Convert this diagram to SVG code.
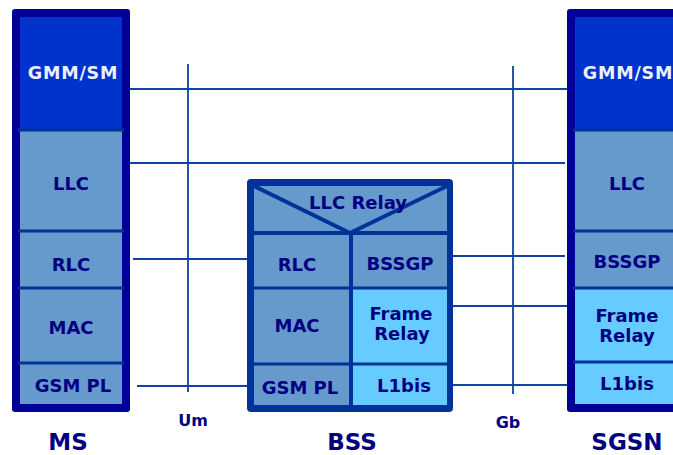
<svg xmlns="http://www.w3.org/2000/svg" width="673" height="455" viewBox="0 0 673 455">
<style>
text{font-family:"DejaVu Sans","Verdana",sans-serif;font-weight:bold;font-size:18px;fill:#000080;text-anchor:middle}
.w{fill:#eef0ff;letter-spacing:0.8px;font-size:17.5px}
.big{font-size:23px}
.sm{font-size:16px}
.div{stroke:#003399;stroke-width:3}
.conn{stroke:#1140a8;stroke-width:1.8;fill:none}
</style>
<rect width="673" height="455" fill="#ffffff"/>
<g id="connectors">
<line class="conn" x1="130" y1="89" x2="567" y2="89"/>
<line class="conn" x1="130" y1="163" x2="565" y2="163"/>
<line class="conn" x1="188" y1="64" x2="188" y2="392"/>
<line class="conn" x1="513" y1="66" x2="513" y2="394"/>
<line class="conn" x1="133" y1="259" x2="247" y2="259"/>
<line class="conn" x1="137" y1="386" x2="247" y2="386"/>
<line class="conn" x1="453" y1="256" x2="565" y2="256"/>
<line class="conn" x1="453" y1="306" x2="567" y2="306"/>
<line class="conn" x1="453" y1="385" x2="567" y2="385"/>
</g>
<g id="MS">
<rect x="12" y="9" width="118" height="403" rx="3" fill="#000099"/>
<rect x="20" y="17" width="102" height="387" fill="#6699cc"/>
<rect x="20" y="17" width="102" height="112" fill="#0033cc"/>
<line class="div" x1="18" y1="130" x2="124" y2="130"/>
<line class="div" x1="18" y1="231" x2="124" y2="231"/>
<line class="div" x1="18" y1="288" x2="124" y2="288"/>
<line class="div" x1="18" y1="363" x2="124" y2="363"/>
<text class="w" x="73" y="79">GMM/SM</text>
<text x="71" y="190">LLC</text>
<text x="71" y="271">RLC</text>
<text x="71" y="334">MAC</text>
<text x="73" y="392">GSM PL</text>
<text class="big" x="68" y="450">MS</text>
</g>
<g id="BSS">
<rect x="247" y="179" width="206" height="233" rx="4" fill="#003399"/>
<rect x="254" y="186" width="193" height="219" fill="#6699cc"/>
<rect x="352" y="289" width="95" height="116" fill="#66ccff"/>
<polyline points="254,186 350,233 447,186" fill="none" stroke="#003399" stroke-width="4"/>
<line x1="254" y1="233" x2="447" y2="233" stroke="#003399" stroke-width="4"/>
<line x1="351" y1="233" x2="351" y2="405" stroke="#003399" stroke-width="4"/>
<line class="div" x1="254" y1="288" x2="447" y2="288"/>
<line class="div" x1="254" y1="364" x2="447" y2="364"/>
<text x="358" y="209">LLC Relay</text>
<text x="297" y="271">RLC</text>
<text x="400" y="270">BSSGP</text>
<text x="297" y="332">MAC</text>
<text x="401" y="320">Frame</text>
<text x="402" y="340">Relay</text>
<text x="300" y="394">GSM PL</text>
<text x="404" y="392">L1bis</text>
<text class="big" x="352" y="450">BSS</text>
</g>
<g id="SGSN">
<rect x="567" y="9" width="118" height="403" rx="3" fill="#000099"/>
<rect x="575" y="17" width="102" height="387" fill="#6699cc"/>
<rect x="575" y="17" width="102" height="112" fill="#0033cc"/>
<rect x="575" y="288" width="102" height="116" fill="#66ccff"/>
<line class="div" x1="573" y1="130" x2="679" y2="130"/>
<line class="div" x1="573" y1="231" x2="679" y2="231"/>
<line class="div" x1="573" y1="288" x2="679" y2="288"/>
<line class="div" x1="573" y1="362" x2="679" y2="362"/>
<text class="w" x="628" y="79">GMM/SM</text>
<text x="627" y="190">LLC</text>
<text x="627" y="268">BSSGP</text>
<text x="627" y="322">Frame</text>
<text x="627" y="342">Relay</text>
<text x="627" y="390">L1bis</text>
<text class="big" x="627" y="450">SGSN</text>
</g>
<g id="labels">
<text class="sm" x="193" y="426">Um</text>
<text class="sm" x="508" y="428">Gb</text>
</g>
</svg>
